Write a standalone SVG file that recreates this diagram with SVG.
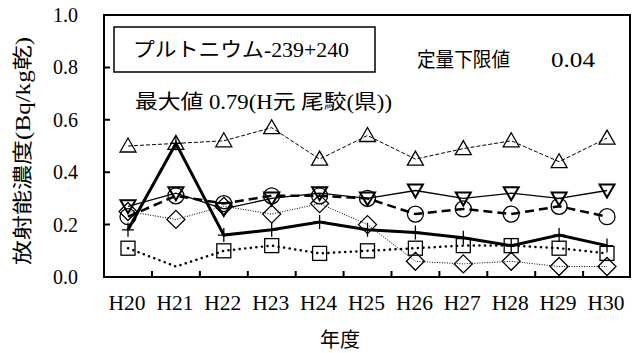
<svg xmlns="http://www.w3.org/2000/svg" width="634" height="353" viewBox="0 0 634 353">
<style>
.t{font-family:"Liberation Serif","Noto Sans CJK JP",serif;font-size:20px;fill:#000}
.tk{text-anchor:end}
.xl{text-anchor:middle}
.ax{fill:none;stroke:#000;stroke-width:2}
.s1{fill:none;stroke:#000;stroke-width:1;stroke-dasharray:4 2}
.s2{fill:none;stroke:#000;stroke-width:1.3}
.s3{fill:none;stroke:#000;stroke-width:2.5;stroke-dasharray:9 5}
.s4{fill:none;stroke:#000;stroke-width:1;stroke-dasharray:1 1.5}
.s5{fill:none;stroke:#000;stroke-width:3}
.s6{fill:none;stroke:#000;stroke-width:2.5;stroke-dasharray:0.1 5.5;stroke-linecap:round}
.m{fill:none;stroke:#000;stroke-width:1.3}
.mb{fill:none;stroke:#000;stroke-width:2}
</style>
<defs>
<path id="tu" d="M0,-8 L8,6 L-8,6 Z"/>
<path id="td" d="M0,7 L7.5,-6 L-7.5,-6 Z"/>
<circle id="ci" r="8"/>
<path id="di" d="M0,-9 L9,0 L0,9 L-9,0 Z"/>
<path id="pl" d="M0,-7 V7 M-6,0 H6"/>
<rect id="sq" x="-7" y="-7" width="14" height="14"/>
</defs>
<g id="axes">
<rect class="ax" x="104" y="15" width="526" height="262"/>
<path class="ax" d="M104,67.4h6M104,119.8h6M104,172.2h6M104,224.6h6 M152,277v-6M199.9,277v-6M247.8,277v-6M295.7,277v-6M343.6,277v-6M391.5,277v-6M439.4,277v-6M487.3,277v-6M535.2,277v-6M583.1,277v-6"/>
</g>
<g id="labels" class="t" font-family="Liberation Serif, Noto Sans CJK JP, serif" font-size="20">
<text class="tk" x="78" y="22" textLength="25" lengthAdjust="spacingAndGlyphs">1.0</text>
<text class="tk" x="78" y="74.4" textLength="25" lengthAdjust="spacingAndGlyphs">0.8</text>
<text class="tk" x="78" y="126.8" textLength="25" lengthAdjust="spacingAndGlyphs">0.6</text>
<text class="tk" x="78" y="179.2" textLength="25" lengthAdjust="spacingAndGlyphs">0.4</text>
<text class="tk" x="78" y="231.6" textLength="25" lengthAdjust="spacingAndGlyphs">0.2</text>
<text class="tk" x="78" y="284" textLength="25" lengthAdjust="spacingAndGlyphs">0.0</text>
<text class="xl" x="127" y="310" textLength="37" lengthAdjust="spacingAndGlyphs">H20</text>
<text class="xl" x="174.9" y="310" textLength="37" lengthAdjust="spacingAndGlyphs">H21</text>
<text class="xl" x="222.8" y="310" textLength="37" lengthAdjust="spacingAndGlyphs">H22</text>
<text class="xl" x="270.7" y="310" textLength="37" lengthAdjust="spacingAndGlyphs">H23</text>
<text class="xl" x="318.6" y="310" textLength="37" lengthAdjust="spacingAndGlyphs">H24</text>
<text class="xl" x="366.5" y="310" textLength="37" lengthAdjust="spacingAndGlyphs">H25</text>
<text class="xl" x="414.4" y="310" textLength="37" lengthAdjust="spacingAndGlyphs">H26</text>
<text class="xl" x="462.3" y="310" textLength="37" lengthAdjust="spacingAndGlyphs">H27</text>
<text class="xl" x="510.2" y="310" textLength="37" lengthAdjust="spacingAndGlyphs">H28</text>
<text class="xl" x="558.1" y="310" textLength="37" lengthAdjust="spacingAndGlyphs">H29</text>
<text class="xl" x="606" y="310" textLength="37" lengthAdjust="spacingAndGlyphs">H30</text>
<text class="xl" x="340" y="347">年度</text>
<text class="xl" transform="translate(30,151) rotate(-90)" textLength="228" lengthAdjust="spacingAndGlyphs">放射能濃度(Bq/kg乾)</text>
</g>
<g id="legend" class="t" font-family="Liberation Serif, Noto Sans CJK JP, serif" font-size="20">
<rect x="114" y="27" width="261" height="45" fill="none" stroke="#000" stroke-width="1.5"/>
<text x="133" y="57" textLength="216" lengthAdjust="spacingAndGlyphs">プルトニウム-239+240</text>
</g>
<g id="notes" class="t" font-family="Liberation Serif, Noto Sans CJK JP, serif" font-size="20">
<text x="417" y="67" textLength="93" lengthAdjust="spacingAndGlyphs">定量下限値</text>
<text x="551" y="67" textLength="44" lengthAdjust="spacingAndGlyphs">0.04</text>
<text x="135" y="109" textLength="257" lengthAdjust="spacingAndGlyphs">最大値 0.79(H元 尾駮(県))</text>
</g>
<g id="connectors">
<polyline class="s1" points="128,146 175.9,143.4 223.8,140.8 271.7,127.7 319.6,159.1 367.5,135.5 415.4,159.1 463.3,148.6 511.2,140.8 559.1,161.7 607,138.1"/>
<polyline class="s2" points="128,206.3 175.9,193.2 223.8,208.9 271.7,198.4 319.6,193.2 367.5,198.4 415.4,190.5 463.3,198.4 511.2,193.2 559.1,198.4 607,190.5"/>
<polyline class="s3" points="128,216.7 175.9,195.8 223.8,203.6 271.7,195.8 319.6,195.8 367.5,198.4 415.4,214.1 463.3,208.9 511.2,214.1 559.1,206.3 607,216.7"/>
<polyline class="s4" points="128,211.5 175.9,219.4 223.8,206.3 271.7,214.1 319.6,203.6 367.5,224.6 415.4,261.3 463.3,263.9 511.2,261.3 559.1,266.5 607,266.5"/>
<polyline class="s5" points="128,229.8 175.9,143.4 223.8,235.1 271.7,229.8 319.6,222 367.5,229.8 415.4,232.5 463.3,237.7 511.2,245.6 559.1,235.1 607,245.6"/>
<polyline class="s6" points="128,248.2 175.9,266.5 223.8,250.8 271.7,245.6 319.6,253.4 367.5,250.8 415.4,248.2 463.3,245.6 511.2,245.6 559.1,248.2 607,253.4"/>
</g>
<g id="series-triangle-up" class="m">
<use href="#tu" x="128" y="146"/><use href="#tu" x="175.9" y="143.4"/><use href="#tu" x="223.8" y="140.8"/><use href="#tu" x="271.7" y="127.7"/><use href="#tu" x="319.6" y="159.1"/><use href="#tu" x="367.5" y="135.5"/><use href="#tu" x="415.4" y="159.1"/><use href="#tu" x="463.3" y="148.6"/><use href="#tu" x="511.2" y="140.8"/><use href="#tu" x="559.1" y="161.7"/><use href="#tu" x="607" y="138.1"/>
</g>
<g id="series-triangle-down" class="mb">
<use href="#td" x="128" y="206.3"/><use href="#td" x="175.9" y="193.2"/><use href="#td" x="223.8" y="208.9"/><use href="#td" x="271.7" y="198.4"/><use href="#td" x="319.6" y="193.2"/><use href="#td" x="367.5" y="198.4"/><use href="#td" x="415.4" y="190.5"/><use href="#td" x="463.3" y="198.4"/><use href="#td" x="511.2" y="193.2"/><use href="#td" x="559.1" y="198.4"/><use href="#td" x="607" y="190.5"/>
</g>
<g id="series-circle" class="m">
<use href="#ci" x="128" y="216.7"/><use href="#ci" x="175.9" y="195.8"/><use href="#ci" x="223.8" y="203.6"/><use href="#ci" x="271.7" y="195.8"/><use href="#ci" x="319.6" y="195.8"/><use href="#ci" x="367.5" y="198.4"/><use href="#ci" x="415.4" y="214.1"/><use href="#ci" x="463.3" y="208.9"/><use href="#ci" x="511.2" y="214.1"/><use href="#ci" x="559.1" y="206.3"/><use href="#ci" x="607" y="216.7"/>
</g>
<g id="series-diamond" class="m">
<use href="#di" x="128" y="211.5"/><use href="#di" x="175.9" y="219.4"/><use href="#di" x="223.8" y="206.3"/><use href="#di" x="271.7" y="214.1"/><use href="#di" x="319.6" y="203.6"/><use href="#di" x="367.5" y="224.6"/><use href="#di" x="415.4" y="261.3"/><use href="#di" x="463.3" y="263.9"/><use href="#di" x="511.2" y="261.3"/><use href="#di" x="559.1" y="266.5"/><use href="#di" x="607" y="266.5"/>
</g>
<g id="series-plus" class="m">
<use href="#pl" x="128" y="229.8"/><use href="#pl" x="175.9" y="143.4"/><use href="#pl" x="223.8" y="235.1"/><use href="#pl" x="271.7" y="229.8"/><use href="#pl" x="319.6" y="222"/><use href="#pl" x="367.5" y="229.8"/><use href="#pl" x="415.4" y="232.5"/><use href="#pl" x="463.3" y="237.7"/><use href="#pl" x="511.2" y="245.6"/><use href="#pl" x="559.1" y="235.1"/><use href="#pl" x="607" y="245.6"/>
</g>
<g id="series-square" class="m">
<use href="#sq" x="128" y="248.2"/><use href="#sq" x="223.8" y="250.8"/><use href="#sq" x="271.7" y="245.6"/><use href="#sq" x="319.6" y="253.4"/><use href="#sq" x="367.5" y="250.8"/><use href="#sq" x="415.4" y="248.2"/><use href="#sq" x="463.3" y="245.6"/><use href="#sq" x="511.2" y="245.6"/><use href="#sq" x="559.1" y="248.2"/><use href="#sq" x="607" y="253.4"/>
</g>
</svg>
